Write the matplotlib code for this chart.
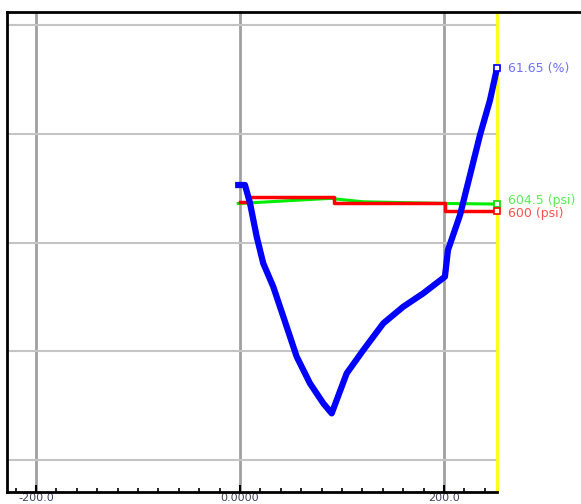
import matplotlib.pyplot as plt
from matplotlib.ticker import FixedLocator

# blue trace (level)
blue_x = [-1.7, 4.9, 9.8, 16.4, 22.8, 32.6, 42.5, 55.6, 68.6, 81.7, 89.9,
          94.8, 104.6, 120.9, 140.5, 160.1, 179.7, 200.9,
          203.9, 215.7, 225.5, 235.3, 245.1, 252.0]
blue_y = [252.9, 252.9, 236.3, 205.3, 180.9, 159.4, 131.8, 95.0, 70.5, 52.1, 42.9,
          55.2, 79.7, 101.1, 125.7, 141.0, 153.3, 168.6,
          193.1, 225.3, 262.1, 298.9, 331.0, 360.5]

# red trace (setpoint, stepped)
red_x = [0.0, 8.1, 92.2, 200.5, 252.0]
red_y = [237.5, 242.1, 235.9, 229.0, 229.0]

# green trace (pressure)
green_x = [-1.7, 88.2, 120.6, 202.6, 252.0]
green_y = [235.9, 240.6, 237.5, 235.9, 235.4]

cursor_x = 252.0
end_labels = ["61.65 (%)", "604.5 (psi)", "600 (psi)"]
tick_vals = [-200, 0, 200]
tick_labels = ["-200.0", "0.0000", "200.0"]

x_min, x_max = -228.4, 334.3
y_min, y_max = -29.4, 412.0

fig = plt.figure(figsize=(5.81, 5.04), dpi=100)
ax = fig.add_axes([7 / 581, 12 / 504, 574 / 581, 480 / 504])
ax.set_xlim(x_min, x_max)
ax.set_ylim(y_min, y_max)

# grid
for gx in tick_vals:
    ax.axvline(gx, color="#a0a0a0", lw=2, zorder=1)
ax.hlines([0, 100, 200, 300, 400], x_min, cursor_x, color="#c4c4c4", lw=1.5, zorder=1)
ax.axvline(cursor_x, color="#ffff00", lw=2, zorder=2)

# traces
ax.plot(blue_x, blue_y, color="#0000ff", lw=4.5, zorder=5)
ax.plot(red_x, red_y, color="#ff0000", lw=2.5, drawstyle="steps-post", zorder=4)
ax.plot(green_x, green_y, color="#00ee00", lw=2.2, zorder=3)

# end markers and value labels
ends = [
    (blue_y[-1], "#0000ff", "#7070ff", end_labels[0], 0),
    (green_y[-1], "#00dd00", "#55ee55", end_labels[1], 2.5),
    (red_y[-1], "#ff0000", "#ff5050", end_labels[2], -1.5),
]
for yv, c, tc, lab, dy in ends:
    ax.plot([cursor_x], [yv], marker="s", ms=4, mfc="white", mec=c, mew=1.2,
            zorder=6, clip_on=False)
    ax.annotate(lab, (cursor_x, yv), xytext=(8, dy), textcoords="offset points",
                color=tc, fontsize=9, va="center", ha="left", annotation_clip=False)

# spines
for s in ["left", "top", "bottom"]:
    ax.spines[s].set_linewidth(2)
    ax.spines[s].set_color("black")
ax.spines["right"].set_visible(False)
ax.spines["bottom"].set_bounds(x_min, cursor_x)

ax.xaxis.set_major_locator(FixedLocator(tick_vals))
ax.xaxis.set_minor_locator(FixedLocator(
    [v for v in range(-220, 251, 20) if v % 200 != 0]))
ax.set_xticklabels(tick_labels)
ax.tick_params(axis="x", which="major", direction="in", length=5, width=1.5,
               labelsize=8, labelcolor="#404060", pad=1)
ax.tick_params(axis="x", which="minor", direction="in", length=3, width=1.2)
ax.set_yticks([])

fig.savefig("out.png", dpi=100)
